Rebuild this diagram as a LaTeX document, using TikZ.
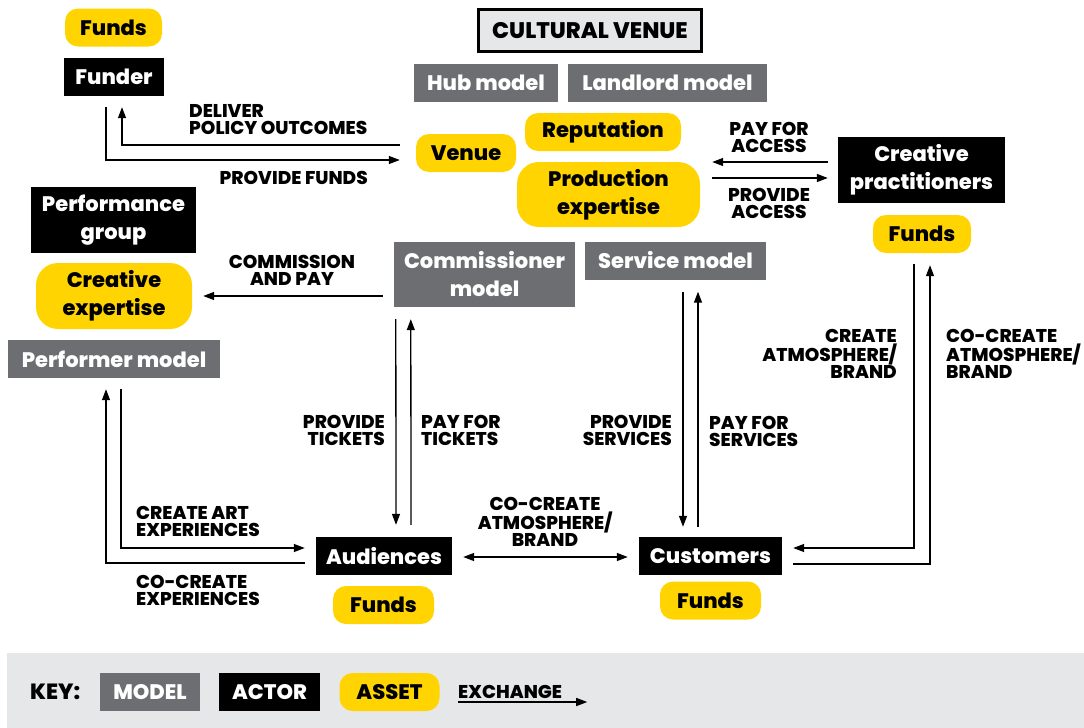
\documentclass[tikz,border=0pt]{standalone}
\usepackage{fontspec}
\setmainfont{Poppins}[BoldFont={Poppins ExtraBold}]
\usetikzlibrary{arrows.meta,calc}

\definecolor{assetyellow}{HTML}{FFD400}
\definecolor{modelgray}{HTML}{6D6E71}
\definecolor{keygray}{HTML}{E6E7E8}

\newcommand{\boxtextfont}{\fontsize{21}{28}\selectfont\bfseries}
\newcommand{\flowfont}{\fontsize{18.5}{17}\selectfont\bfseries}

\tikzset{
  >={Triangle[length=11pt,width=8pt]},
  box/.style={font=\boxtextfont, align=center, inner sep=0pt, minimum height=38pt},
  model/.style={box, fill=modelgray, text=white},
  actor/.style={box, fill=black, text=white},
  asset/.style={box, fill=assetyellow, text=black, rounded corners=13pt},
  flow/.style={line width=1.3pt, ->},
  flowlbl/.style={font=\flowfont, inner sep=0pt},
}

\begin{document}
\begin{tikzpicture}[x=1pt,y=-1pt]
  \useasboundingbox (0,0) rectangle (1084,728);
  \fill[keygray] (7,653) rectangle (1084,728);

  % venue
  \node[box, font=\fontsize{22.5}{28}\selectfont\bfseries, fill=keygray, draw=black, line width=3pt, minimum width=223pt, minimum height=42pt] (venuetitle) at (590,30.5) {CULTURAL VENUE};
  \node[model, minimum width=144pt] (hub) at (486,83) {Hub model};
  \node[model, minimum width=199pt] (landlord) at (667.5,83) {Landlord model};
  \node[asset, minimum width=100pt] (venue) at (466,153) {Venue};
  \node[asset, minimum width=156pt] (reput) at (603,132) {Reputation};
  \node[asset, minimum width=183pt, minimum height=65pt, rounded corners=22pt] (prodexp) at (608.5,194.5) {Production\\expertise};
  \node[model, minimum width=181pt, minimum height=65pt] (commod) at (484.5,274.5) {Commissioner\\model};
  \node[model, minimum width=181pt] (servmod) at (675.5,260.5) {Service model};

  % actors
  \node[asset, minimum width=97pt] (funderfunds) at (113.5,27.5) {Funds};
  \node[actor, minimum width=100pt] (funder) at (114,77) {Funder};
  \node[actor, minimum width=167pt, minimum height=66pt] (crprac) at (921.5,170) {Creative\\practitioners};
  \node[asset, minimum width=98pt] (crfunds) at (922,234) {Funds};
  \node[actor, minimum width=165pt, minimum height=66pt] (perfgrp) at (113.5,220) {Performance\\group};
  \node[asset, minimum width=156pt, minimum height=66pt, rounded corners=22pt] (crexp) at (114,296) {Creative\\expertise};
  \node[model, minimum width=212pt] (perfmod) at (114,359) {Performer model};
  \node[actor, minimum width=136pt] (aud) at (384,556) {Audiences};
  \node[asset, minimum width=101pt] (audfunds) at (383.5,605) {Funds};
  \node[actor, minimum width=143pt] (cust) at (710.5,556) {Customers};
  \node[asset, minimum width=101pt] (custfunds) at (710.5,600.5) {Funds};

  % exchanges
  \draw[flow] ($(funder.south)+(-8,11)$) |- ($(venue.west)+(-16,7)$);
  \draw[flow] ($(venue.west)+(-16,-8)$) -| ($(funder.south)+(8,11)$);
  \draw[flow] ($(crprac.west)+(-10,-8)$) -- ($(prodexp.east)+(12,-32.5)$);
  \draw[flow] ($(prodexp.east)+(12,-16.5)$) -- ($(crprac.west)+(-10,8)$);
  \draw[flow] ($(commod.west)+(-11,21.5)$) -- ($(crexp.east)+(11,0)$);
  \draw[flow] ($(commod.south west)+(2,12)$) -- ($(aud.north)+(12,-12)$);
  \draw[flow] ($(aud.north)+(27,-12)$) -- ($(commod.south west)+(17,12)$);
  \draw[flow] ($(servmod.south)+(7.5,12)$) -- ($(cust.north)+(-27.5,-10)$);
  \draw[flow] ($(cust.north)+(-12.5,-10)$) -- ($(servmod.south)+(22.5,12)$);
  \draw[flow] ($(perfmod.south)+(7,11)$) |- ($(aud.west)+(-11,-8)$);
  \draw[flow] ($(aud.west)+(-11,7)$) -| ($(perfmod.south)+(-8,11)$);
  \draw[flow, <->] ($(aud.east)+(11,1)$) -- ($(cust.west)+(-11,1)$);
  \draw[flow] ($(crfunds.south)+(-8,11)$) |- ($(cust.east)+(11,-8)$);
  \draw[flow] ($(cust.east)+(11,8)$) -| ($(crfunds.south)+(8,12)$);

  % exchange labels
  \node[flowlbl, anchor=west, align=left] (deliverlbl) at (189,120) {DELIVER\\POLICY OUTCOMES};
  \node[flowlbl, anchor=east] (fundslbl) at (368,178) {PROVIDE FUNDS};
  \node[flowlbl, align=center] (paccesslbl) at (769,137.5) {PAY FOR\\ACCESS};
  \node[flowlbl, align=center] (accesslbl) at (769,203.5) {PROVIDE\\ACCESS};
  \node[flowlbl, align=center] (commlbl) at (292,270.5) {COMMISSION\\AND PAY};
  \node[flowlbl, anchor=east, align=right] (ticketslbl) at (385,430) {PROVIDE\\TICKETS};
  \node[flowlbl, anchor=west, align=left] (pticketslbl) at (421,430) {PAY FOR\\TICKETS};
  \node[flowlbl, anchor=east, align=right] (serviceslbl) at (672,430) {PROVIDE\\SERVICES};
  \node[flowlbl, anchor=west, align=left] (pserviceslbl) at (709,431) {PAY FOR\\SERVICES};
  \node[flowlbl, anchor=east, align=right] (atmoslbl) at (897,354) {CREATE\\ATMOSPHERE/\\BRAND};
  \node[flowlbl, anchor=west, align=left] (coatmoslbl) at (946,354) {CO-CREATE\\ATMOSPHERE/\\BRAND};
  \node[flowlbl, anchor=west, align=left] (artlbl) at (136,521) {CREATE ART\\EXPERIENCES};
  \node[flowlbl, anchor=west, align=left] (coexplbl) at (136,590) {CO-CREATE\\EXPERIENCES};
  \node[flowlbl, align=center] (midatmoslbl) at (545,522) {CO-CREATE\\ATMOSPHERE/\\BRAND};

  % key
  \node[font=\fontsize{22}{26}\selectfont\bfseries, inner sep=0pt, anchor=west] (keylbl) at (30,692) {KEY:};
  \node[model, minimum width=100pt] (keymodel) at (150,692) {MODEL};
  \node[actor, minimum width=101pt] (keyactor) at (269.5,692) {ACTOR};
  \node[asset, minimum width=100pt] (keyasset) at (389.5,692) {ASSET};
  \node[flowlbl, anchor=base west] (keyexch) at (458,698) {EXCHANGE};
  \draw[flow] ($(keyexch.base west)+(0,4)$) -- ($(keyexch.base east)+(25,4)$);
\end{tikzpicture}
\end{document}
